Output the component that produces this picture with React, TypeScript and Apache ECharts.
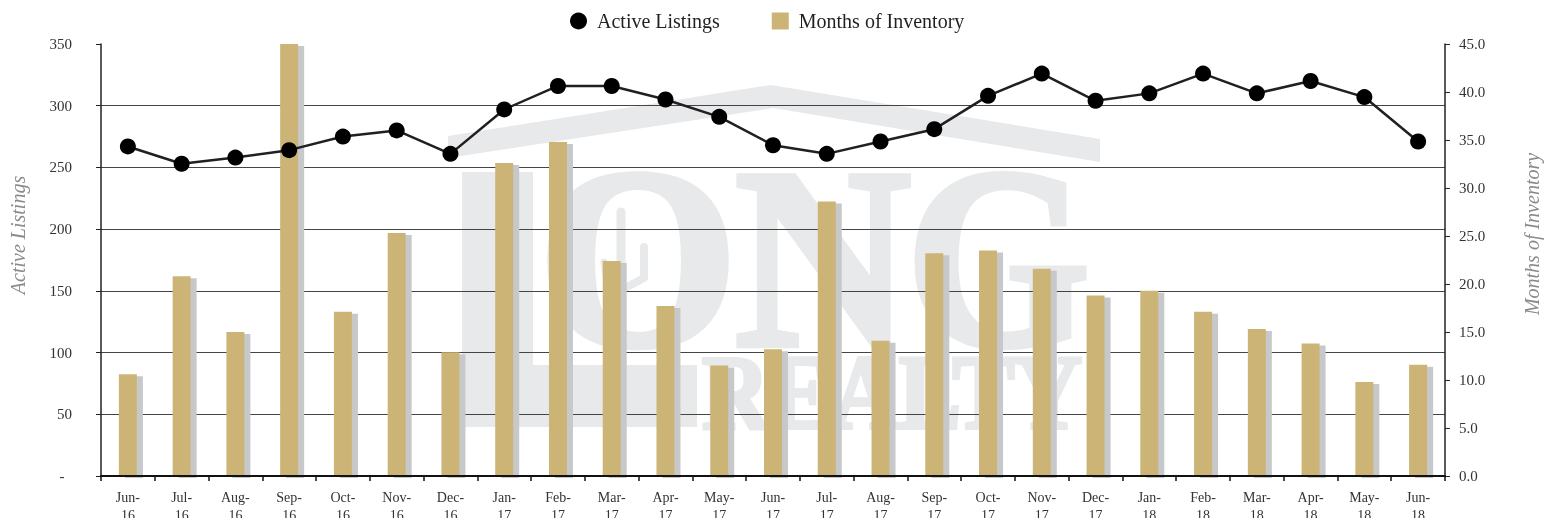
import React, { useEffect, useRef } from "react";
import * as echarts from "echarts";

const categories = [
  "Jun-\n16", "Jul-\n16", "Aug-\n16", "Sep-\n16", "Oct-\n16", "Nov-\n16", "Dec-\n16",
  "Jan-\n17", "Feb-\n17", "Mar-\n17", "Apr-\n17", "May-\n17", "Jun-\n17", "Jul-\n17",
  "Aug-\n17", "Sep-\n17", "Oct-\n17", "Nov-\n17", "Dec-\n17", "Jan-\n18", "Feb-\n18",
  "Mar-\n18", "Apr-\n18", "May-\n18", "Jun-\n18",
];

const activeListings = [
  267, 253, 258, 264, 275, 280, 261, 297, 316, 316, 305, 291, 268, 261, 271, 281,
  308, 326, 304, 310, 326, 310, 320, 307, 271,
];

const monthsOfInventory = [
  10.6, 20.8, 15.0, 45.0, 17.1, 25.3, 12.9, 32.6, 34.8, 22.4, 17.7, 11.5, 13.2,
  28.6, 14.1, 23.2, 23.5, 21.6, 18.8, 19.3, 17.1, 15.3, 13.8, 9.8, 11.6,
];

const FONT = "'Liberation Serif', 'Times New Roman', serif";
const WM = "#e8e9ea";

export default function App() {
  const ref = useRef<HTMLDivElement>(null);
  useEffect(() => {
    if (!ref.current) return;
    const chart = echarts.init(ref.current, null, { renderer: "svg" });
    const wmText = (text: string, x: number, y: number, size: number, scaleX = 1, sw = 6) => ({
      type: "text",
      z: -10,
      x,
      y,
      scaleX,
      style: {
        text,
        x: 0,
        y: 0,
        fill: WM,
        stroke: WM,
        lineWidth: sw,
        fontSize: size,
        fontWeight: "bold",
        fontFamily: FONT,
        align: "center",
        verticalAlign: "middle",
        textAlign: "center",
        textVerticalAlign: "middle",
      },
    });
    chart.setOption({
      animation: false,
      textStyle: { fontFamily: FONT },
      legend: {
        top: 6,
        left: 565,
        itemWidth: 17,
        itemHeight: 17,
        itemGap: 52,
        textStyle: { fontSize: 20, color: "#231f20", fontFamily: FONT, padding: [0, 0, 0, 5] },
        data: [
          { name: "Active Listings", icon: "circle", itemStyle: { color: "#000" } },
          { name: "Months of Inventory", icon: "rect" },
        ],
      },
      grid: {
        left: 101,
        right: 109,
        top: 44,
        bottom: 42,
        containLabel: false,
        outerBoundsMode: "none",
      },
      xAxis: {
        type: "category",
        data: categories,
        z: 5,
        axisLine: { lineStyle: { color: "#111", width: 2 } },
        axisTick: { show: true, length: 5, lineStyle: { color: "#111", width: 1.5 } },
        axisLabel: {
          interval: 0,
          fontSize: 14,
          lineHeight: 18,
          color: "#333",
          margin: 12,
          fontFamily: FONT,
        },
      },
      yAxis: [
        {
          type: "value",
          min: 0,
          max: 350,
          interval: 50,
          axisLine: { show: true, lineStyle: { color: "#222", width: 1.5 } },
          axisTick: { show: true, length: 5, lineStyle: { color: "#222" } },
          axisLabel: {
            fontSize: 15,
            color: "#333",
            margin: 29,
            fontFamily: FONT,
            formatter: (v: number) => (v === 0 ? "-  " : String(v)),
          },
          splitLine: {
            show: true,
            lineStyle: {
              color: ["transparent", "#444", "#444", "#444", "#444", "#444", "#444", "transparent"],
              width: 1.2,
            },
          },
        },
        {
          type: "value",
          min: 0,
          max: 45,
          interval: 5,
          position: "right",
          axisLine: { show: true, lineStyle: { color: "#222", width: 1.5 } },
          axisTick: { show: true, length: 5, lineStyle: { color: "#222" } },
          axisLabel: {
            fontSize: 15,
            color: "#333",
            margin: 14,
            fontFamily: FONT,
            formatter: (v: number) => v.toFixed(1),
          },
          splitLine: { show: false },
        },
      ],
      series: [
        {
          name: "Months of Inventory",
          type: "bar",
          yAxisIndex: 1,
          data: monthsOfInventory,
          barWidth: 18,
          z: 2,
          itemStyle: {
            color: "#ccb476",
            shadowColor: "#c7c8ca",
            shadowOffsetX: 6,
            shadowOffsetY: 2,
            shadowBlur: 0,
          },
        },
        {
          name: "Active Listings",
          type: "line",
          yAxisIndex: 0,
          data: activeListings,
          z: 4,
          symbol: "circle",
          symbolSize: 16,
          lineStyle: { color: "#231f20", width: 2.5 },
          itemStyle: { color: "#000" },
        },
      ],
      graphic: {
        elements: [
          {
            type: "polygon",
            z: -10,
            shape: {
              points: [
                [448, 136], [771, 85], [1100, 139], [1100, 162], [773, 108], [448, 158],
              ],
            },
            style: { fill: WM },
          },
          {
            type: "polygon",
            z: -10,
            shape: {
              points: [
                [462, 172], [533, 172], [533, 365], [697, 365], [697, 427], [462, 427],
              ],
            },
            style: { fill: WM },
          },
          wmText("O", 638, 258, 258),
          wmText("N", 823, 258, 258, 0.95),
          wmText("G", 998, 258, 258, 0.92),
          wmText("REALTY", 892, 392, 106, 0.88, 4),
          {
            type: "polyline",
            z: -9,
            shape: { points: [[621, 212], [621, 298]] },
            style: { stroke: WM, lineWidth: 9, lineCap: "round", fill: null },
          },
          {
            type: "polyline",
            z: -9,
            shape: { points: [[644, 247], [644, 278], [625, 288]] },
            style: { stroke: WM, lineWidth: 8, lineCap: "round", lineJoin: "round", fill: null },
          },
          {
            type: "polyline",
            z: -9,
            shape: { points: [[604, 262], [606, 276], [617, 282]] },
            style: { stroke: WM, lineWidth: 7, lineCap: "round", lineJoin: "round", fill: null },
          },
          {
            type: "text",
            z: 10,
            x: 18,
            y: 235,
            rotation: Math.PI / 2,
            style: {
              text: "Active Listings",
              x: 0,
              y: 0,
              fill: "#8a8a8a",
              fontSize: 20,
              fontStyle: "italic",
              fontFamily: FONT,
              align: "center",
              verticalAlign: "middle",
              textAlign: "center",
              textVerticalAlign: "middle",
            },
          },
          {
            type: "text",
            z: 10,
            x: 1532,
            y: 234,
            rotation: Math.PI / 2,
            style: {
              text: "Months of Inventory",
              x: 0,
              y: 0,
              fill: "#8a8a8a",
              fontSize: 20,
              fontStyle: "italic",
              fontFamily: FONT,
              align: "center",
              verticalAlign: "middle",
              textAlign: "center",
              textVerticalAlign: "middle",
            },
          },
        ],
      },
    });
    return () => chart.dispose();
  }, []);
  return (
    <div
      ref={ref}
      style={{ position: "fixed", left: 0, top: 0, width: 1554, height: 518 }}
    />
  );
}
